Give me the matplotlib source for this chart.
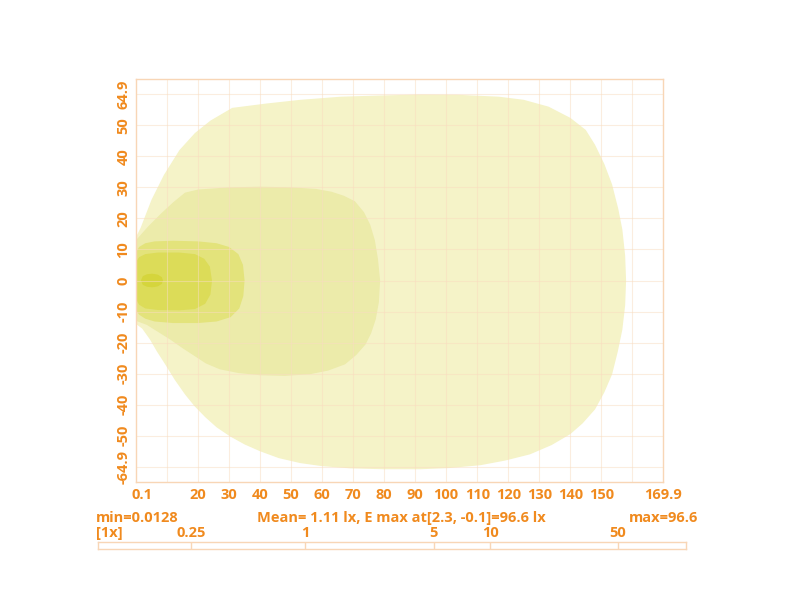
import numpy as np
import matplotlib
matplotlib.use("Agg")
import matplotlib.pyplot as plt

plt.rcParams["font.family"] = ["Open Sans", "DejaVu Sans"]

# isolux outlines (x along road, y across), in m
lux_levels = ["0.25", "1", "5", "10", "50"]
lux_colors = ["#f5f3c8", "#ecebaa", "#e3e37b", "#dcdc58", "#d5d53c"]

c025_x = [0, 1.5, 5, 9, 14, 19, 24, 31, 42, 53, 66, 79, 92, 104, 117, 125, 133, 140,
          145, 148, 151, 153.5, 155.5, 156.8, 157.7, 158, 157.7, 156.8, 155.3, 153.5,
          151, 148, 144, 140, 134, 127, 119, 111, 101, 91.6, 80, 69, 60, 52.9, 46, 40,
          35, 30.3, 26, 22.3, 18.8, 15.8, 12.5, 9.4, 6.7, 4.5, 2, 0]
c025_y = [14, 17, 26, 34, 42, 47.5, 51.5, 55.6, 57, 58.2, 59.2, 59.6, 59.9, 59.8, 59.2,
          58.2, 56, 52.4, 48.5, 43.7, 37.5, 30.9, 23, 16.4, 8, 0, -8, -15.8, -23, -30.2,
          -36, -41.5, -46, -49.5, -53, -56, -58, -59.5, -60.4, -60.8, -60.8, -60.5,
          -59.8, -58.8, -57.2, -55, -52.8, -50.2, -47.3, -44, -40.4, -36.7, -32, -27,
          -22.8, -19, -15.5, -14]

c1_x = [0, 4, 8, 12, 15.8, 20, 30, 40, 50, 58, 63, 67, 70.6, 73.5, 75.5, 77, 78, 78.7,
        78.3, 77.3, 75.8, 74, 71, 67.4, 62, 56, 48, 40, 33, 27, 22.5, 19, 15, 11, 7, 3.5, 0]
c1_y = [13, 17.5, 21.5, 25.2, 28.3, 29.3, 30, 30.2, 30, 29.5, 28.6, 27.3, 25.5, 22, 18,
        13, 7, 0, -7, -12.5, -17, -20.6, -24, -27, -29, -30.2, -30.7, -30.5, -29.8,
        -28.6, -26.7, -24.4, -21.8, -19, -16.5, -14.3, -13]

c5_x = [0, 1, 3, 6, 12, 20, 26, 30, 33, 34.5, 35, 34.6, 33.3, 30.5, 26, 20, 12, 6, 3, 1, 0]
c5_y = [9, 10.8, 12, 12.6, 12.8, 12.6, 12, 10.8, 8.5, 5, 0, -5, -9, -11.8, -13.2, -13.7,
        -13.7, -13.2, -12.3, -11, -9.5]

c10_x = [0, 1, 3, 7, 14, 19, 22, 23.8, 24.5, 24, 22.3, 19, 14, 7, 3, 1, 0]
c10_y = [6, 7.5, 8.5, 9, 9, 8.5, 7, 4.5, 0, -4.5, -7.5, -9.2, -9.6, -9.5, -9, -7.8, -6]

c50_x = [1.6, 2.2, 3.5, 5.2, 7, 8.3, 8.7, 8.3, 7, 5.2, 3.5, 2.2]
c50_y = [0, 1.4, 2, 2.2, 1.9, 1.1, 0, -1.1, -1.9, -2.2, -2, -1.4]

x_tick_pos = [2, 20, 30, 40, 50, 60, 70, 80, 90, 100, 110, 120, 130, 140, 150, 169.9]
x_tick_lab = ["0.1", "20", "30", "40", "50", "60", "70", "80", "90", "100", "110",
              "120", "130", "140", "150", "169.9"]
y_tick_pos = [-60, -50, -40, -30, -20, -10, 0, 10, 20, 30, 40, 50, 60]
y_tick_lab = ["-64.9", "-50", "-40", "-30", "-20", "-10", "0", "10", "20", "30", "40",
              "50", "64.9"]

# scale bar under the chart: label and where it sits along the bar (0..1)
bar_labels = ["0.25", "1", "5", "10", "50"]
bar_pos = [0.158, 0.352, 0.571, 0.667, 0.884]

orange = "#f08a1e"
grid_c = "#f9dcc0"
edge_c = "#f8d6b6"

fig = plt.figure(figsize=(8, 6), dpi=100)
ax = fig.add_axes([136 / 800, 1 - 482 / 600, 527 / 800, 403 / 600])

outlines = [(c025_x, c025_y), (c1_x, c1_y), (c5_x, c5_y), (c10_x, c10_y), (c50_x, c50_y)]
for (xs, ys), col in zip(outlines, lux_colors):
    ax.fill(xs, ys, color=col, lw=0, zorder=1)

ax.set_xlim(0, 169.9)
ax.set_ylim(-64.9, 64.9)

# grid every 10 m, drawn over the fills
for gx in np.arange(10, 170, 10):
    ax.axvline(gx, color=grid_c, lw=0.8, alpha=0.5, zorder=2)
for gy in np.arange(-60, 61, 10):
    ax.axhline(gy, color=grid_c, lw=0.8, alpha=0.5, zorder=2)

ax.set_xticks(x_tick_pos)
ax.set_xticklabels(x_tick_lab)
ax.set_yticks(y_tick_pos)
ax.set_yticklabels(y_tick_lab, rotation=90, va="center")
ax.tick_params(which="both", length=0, colors=orange, labelsize=10.5, pad=4)
for lab in ax.get_xticklabels() + ax.get_yticklabels():
    lab.set_fontweight("bold")
for s in ax.spines.values():
    s.set_color(edge_c)
    s.set_linewidth(1)

txt = dict(color=orange, fontsize=10.5, fontweight="bold", va="center")
fig.text(96 / 800, 1 - 518 / 600, "min=0.0128", ha="left", **txt)
fig.text(257 / 800, 1 - 518 / 600, "Mean= 1.11 lx, E max at[2.3, -0.1]=96.6 lx", ha="left", **txt)
fig.text(698 / 800, 1 - 518 / 600, "max=96.6", ha="right", **txt)
fig.text(96 / 800, 1 - 533 / 600, "[1x]", ha="left", **txt)

cax = fig.add_axes([98 / 800, 1 - 549 / 600, 588 / 800, 7 / 600])
cax.set_xlim(0, 1)
cax.set_ylim(0, 1)
cax.set_xticks([])
cax.set_yticks([])
for s in cax.spines.values():
    s.set_color(edge_c)
    s.set_linewidth(1)
for p, lab in zip(bar_pos, bar_labels):
    cax.axvline(p, color=edge_c, lw=1)
    fig.text((98 + p * 588) / 800, 1 - 533 / 600, lab, ha="center", **txt)

fig.savefig("out.png", dpi=100)
